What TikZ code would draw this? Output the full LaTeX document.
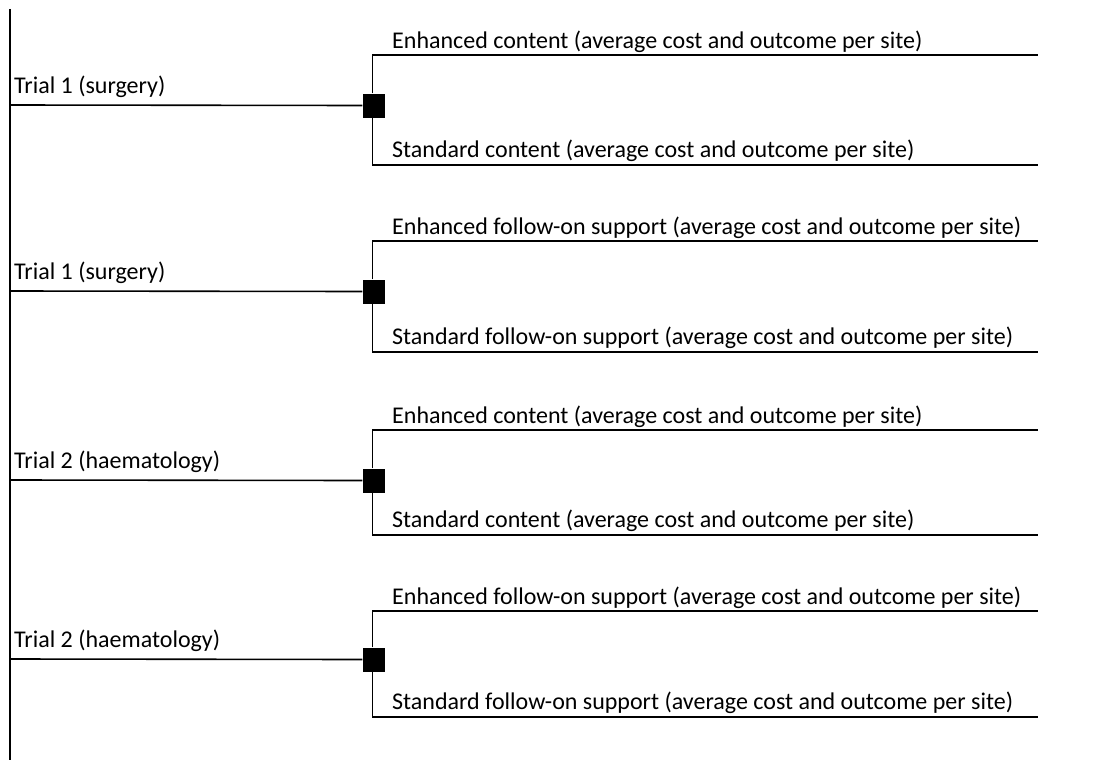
\documentclass[tikz,border=0pt]{standalone}
\usepackage{fontspec}
\setmainfont{Carlito}
\usetikzlibrary{positioning}

\begin{document}
\begin{tikzpicture}[
  x=1pt, y=-1pt,
  font=\fontsize{24}{28}\selectfont,
  branch/.style={line width=1.6pt, draw=black},
  choice/.style={
    fill=black,
    inner sep=0pt,
    minimum width=22pt,
    minimum height=24pt
  },
  armlabel/.style={anchor=base west, inner sep=0pt},
  triallabel/.style={anchor=base west, inner sep=0pt}
]

\useasboundingbox (0,0) rectangle (1095,760);

% Root line
\coordinate (roottop) at (10,9);
\coordinate (rootbottom) at (10,760);
\draw[branch] (roottop) -- (rootbottom);

% One decision per trial and intervention component
\foreach \n/\yt/\ym/\yb/\trial/\arm in {
    1/55/105/165/{Trial 1 (surgery)}/{content},
    2/241/291/352/{Trial 1 (surgery)}/{follow-on support},
    3/430/480/535/{Trial 2 (haematology)}/{content},
    4/611/659/717/{Trial 2 (haematology)}/{follow-on support}} {
  \coordinate (start\n) at (10,\ym);
  \node[choice] (choice\n) at (373.5,\ym+0.5) {};
  \coordinate (uptop\n) at (372.3,\yt);
  \coordinate (downbot\n) at (372.3,\yb);
  \coordinate (upend\n) at (1038,\yt);
  \coordinate (downend\n) at (1038,\yb);
  \node[triallabel] (trial\n) at (14,\ym-11.5) {\trial};
  \node[armlabel] (enh\n) at (392,\yt-6.7) {Enhanced \arm{} (average cost and outcome per site)};
  \node[armlabel] (std\n) at (392,\yb-7.5) {Standard \arm{} (average cost and outcome per site)};
  \draw[branch] (start\n) -- (choice\n.west);
  \draw[branch] (choice\n.north -| uptop\n) -- (uptop\n) -- (upend\n);
  \draw[branch] (choice\n.south -| downbot\n) -- (downbot\n) -- (downend\n);
}

\end{tikzpicture}
\end{document}
